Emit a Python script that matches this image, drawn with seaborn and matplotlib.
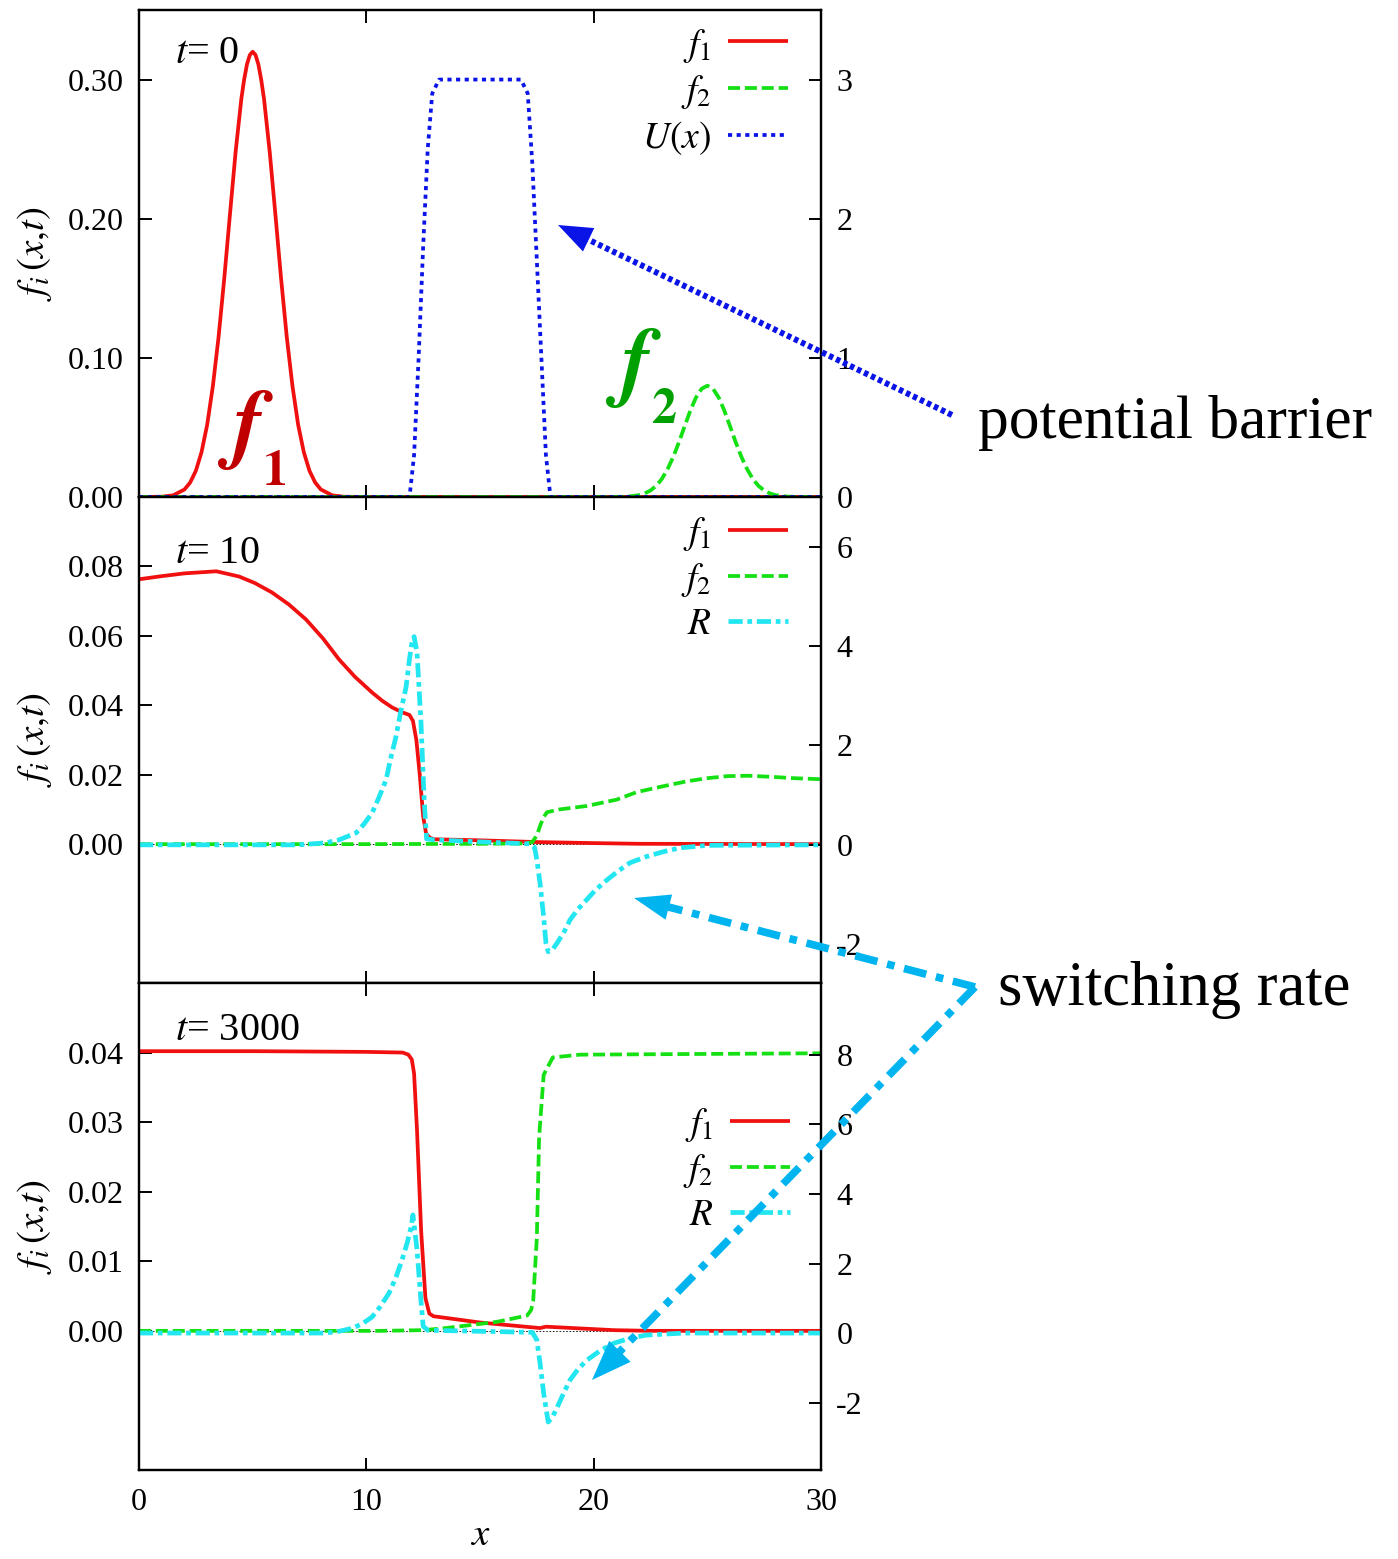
import numpy as np
import matplotlib
matplotlib.use("Agg")
import matplotlib.pyplot as plt
from matplotlib.lines import Line2D
from matplotlib.patches import Polygon
import seaborn as sns

sns.set_style("ticks")
plt.rcParams['font.family'] = ['Liberation Serif', 'DejaVu Serif']
plt.rcParams['mathtext.fontset'] = 'stix'
for k in ['text.color', 'axes.labelcolor', 'xtick.color', 'ytick.color', 'axes.edgecolor']:
    plt.rcParams[k] = 'black'

# ---------------- data ----------------
# panel 1, t = 0
x_f1_t0 = [0, 1, 1.5, 2, 2.25, 2.5, 2.75, 3, 3.25, 3.5, 3.75, 4, 4.25, 4.5, 4.625, 4.75, 4.875,
           5, 5.125, 5.25, 5.375, 5.5, 5.75, 6, 6.25, 6.5, 6.75, 7, 7.25, 7.5, 7.75, 8, 8.5, 9,
           10, 30]
f1_t0 = [0, 0.0002, 0.0012, 0.0054, 0.0104, 0.0188, 0.0322, 0.052, 0.0798, 0.115, 0.157,
         0.203, 0.248, 0.286, 0.300, 0.311, 0.3177, 0.32, 0.3177, 0.311, 0.300, 0.286, 0.248,
         0.203, 0.157, 0.115, 0.0798, 0.052, 0.0322, 0.0188, 0.0104, 0.0054, 0.0012, 0.0002,
         0, 0]
x_f2_t0 = [0, 20, 21, 21.5, 22, 22.25, 22.5, 22.75, 23, 23.25, 23.5, 23.75, 24, 24.25, 24.5,
           24.75, 25, 25.25, 25.5, 25.75, 26, 26.25, 26.5, 26.75, 27, 27.25, 27.5, 27.75, 28,
           28.5, 29, 30]
f2_t0 = [0, 0, 0.00005, 0.0003, 0.00135, 0.0026, 0.0047, 0.008, 0.013, 0.020, 0.0288, 0.0393,
         0.0508, 0.062, 0.0715, 0.0778, 0.08, 0.0778, 0.0715, 0.062, 0.0508, 0.0393, 0.0288,
         0.020, 0.013, 0.008, 0.0047, 0.0026, 0.00135, 0.0003, 0.00005, 0]
x_U = [0, 11.9, 12.1, 12.3, 12.5, 12.7, 12.9, 13.2, 16.8, 17.1, 17.3, 17.5, 17.7, 17.9, 18.1, 30]
U_x = [0, 0, 0.3, 1.0, 1.8, 2.5, 2.9, 3.0, 3.0, 2.9, 2.4, 1.7, 1.0, 0.3, 0, 0]

# panel 2, t = 10
x_f1_t10 = [0, 1, 2, 3.4, 4.4, 5.1, 5.85, 6.6, 7.35, 8.1, 8.8, 9.5, 10.25, 10.7, 11.13, 11.57,
            11.9, 12.05, 12.2, 12.35, 12.5, 12.63, 12.8, 13.0, 15, 17.5, 20, 22, 30]
f1_t10 = [0.0763, 0.0772, 0.0780, 0.0786, 0.0771, 0.0752, 0.0725, 0.0690, 0.0647, 0.0592,
          0.0532, 0.0482, 0.0437, 0.0413, 0.0394, 0.038, 0.0372, 0.0355, 0.030, 0.020, 0.008,
          0.0030, 0.0018, 0.0014, 0.0011, 0.0006, 0.0003, 0.0001, 0]
x_f2_t10 = [0, 10, 15, 17.0, 17.3, 17.5, 17.64, 17.8, 17.95, 18.5, 19.7, 21.0, 21.9, 23.0,
            24.1, 25.0, 25.9, 26.8, 27.8, 28.8, 30]
f2_t10 = [0, 0, 0.0001, 0.0002, 0.0006, 0.0025, 0.0052, 0.0078, 0.0092, 0.0100, 0.0110,
          0.0128, 0.0150, 0.0166, 0.0181, 0.0190, 0.0196, 0.0197, 0.0194, 0.0190, 0.0187]
x_R_t10 = [0, 7, 8.2, 8.8, 9.55, 9.9, 10.25, 10.55, 10.87, 11.05, 11.3, 11.5, 11.75, 11.9,
           12.0, 12.1, 12.23, 12.4, 12.55, 12.65, 13.0, 15, 17.2, 17.4, 17.5, 17.64, 17.8, 17.9,
           18.0, 18.2, 18.4, 18.7, 18.96, 19.3, 19.7, 20.1, 20.6, 21.1, 21.6, 22.3, 23.05,
           23.8, 25, 30]
R_t10 = [0, 0, 0.04, 0.1, 0.24, 0.42, 0.64, 0.95, 1.31, 1.7, 2.17, 2.65, 3.18, 3.75, 4.05,
         4.19, 3.87, 2.5, 0.85, 0.12, 0.1, 0.06, 0.02, -0.05, -0.3, -0.77, -1.45, -1.97, -2.15,
         -2.1, -1.97, -1.75, -1.51, -1.3, -1.1, -0.9, -0.7, -0.52, -0.36, -0.24, -0.14, -0.06,
         -0.01, 0]

# panel 3, t = 3000
x_f1_t3000 = [0, 5, 10, 11.6, 11.85, 12.0, 12.1, 12.23, 12.41, 12.6, 12.77, 12.95, 15, 17.64,
              17.9, 20.9, 22.5, 30]
f1_t3000 = [0.0402, 0.0402, 0.0401, 0.0400, 0.0397, 0.0390, 0.0370, 0.0288, 0.0144, 0.0047,
            0.0025, 0.0021, 0.0012, 0.0004, 0.0006, 0.0001, 0, 0]
x_f2_t3000 = [0, 10.6, 12.5, 13.5, 15.75, 17.07, 17.25, 17.34, 17.5, 17.6, 17.8, 18.2, 19.4, 30]
f2_t3000 = [0, 0, 0.0001, 0.0004, 0.0013, 0.0022, 0.0030, 0.0043, 0.0134, 0.0278, 0.0368,
            0.0393, 0.0397, 0.0399]
x_R_t3000 = [0, 8.2, 8.8, 9.4, 9.85, 10.25, 10.6, 11.0, 11.3, 11.57, 11.8, 11.97, 12.05, 12.23,
             12.4, 12.5, 12.7, 15, 17.3, 17.5, 17.64, 17.8, 18.0, 18.2, 18.4, 18.7, 18.96, 19.3,
             19.7, 20.3, 20.9, 21.6, 22.3, 24, 30]
R_t3000 = [0, 0, 0.05, 0.14, 0.28, 0.46, 0.75, 1.15, 1.6, 2.1, 2.6, 3.05, 3.4, 2.39, 0.95, 0.2,
           0.08, 0.05, 0.02, -0.2, -0.86, -1.73, -2.56, -2.4, -2.13, -1.7, -1.35, -1.05, -0.78,
           -0.5, -0.29, -0.15, -0.06, 0, 0]

time_labels = ["0", "10", "3000"]
x_ticks = [0, 10, 20, 30]
left_ticks = [[0.0, 0.10, 0.20, 0.30], [0.0, 0.02, 0.04, 0.06, 0.08], [0.0, 0.01, 0.02, 0.03, 0.04]]
left_lims = [(0, 0.35), (-0.04, 0.10), (-0.02, 0.05)]
right_ticks = [[0, 1, 2, 3], [-2, 0, 2, 4, 6], [-2, 0, 2, 4, 6, 8]]
right_lims = [(0, 3.5), (-2.78, 7.0), (-3.94, 10.07)]

# ---------------- styles ----------------
RED = '#f01010'
GREEN = '#14e014'
BLUE = '#0a14e6'
CYAN = '#22e6f0'
ARROW_CYAN = '#00b4f0'

W, H = 1398, 1559
fig = plt.figure(figsize=(W / 100, H / 100), dpi=100)


def P(px, py):
    return (px / W, 1 - py / H)


tops = [10, 497, 983]
bots = [497, 983, 1470]
L, R_ = 139, 821
FS_TICK = 23
FS_LEG = 27

panels = []
for i in range(3):
    ax = fig.add_axes([L / W, 1 - bots[i] / H, (R_ - L) / W, (bots[i] - tops[i]) / H])
    ax2 = ax.twinx()
    panels.append((ax, ax2))


def draw(ax, x, y, color, lw, dashes=None):
    sns.lineplot(x=x, y=y, ax=ax, color=color, lw=lw, estimator=None, sort=True)
    ln = ax.get_lines()[-1]
    if dashes is not None:
        ln.set_dashes(dashes)
    ln.set_solid_capstyle('butt')
    ln.set_dash_capstyle('butt')
    ln.set_solid_joinstyle('round')
    return ln


LW = 2.7
GD = (3.2, 1.3)
handles = []
# panel 1
ax, ax2 = panels[0]
h1 = draw(ax, x_f1_t0, f1_t0, RED, LW)
h2 = draw(ax, x_f2_t0, f2_t0, GREEN, LW, GD)
h3 = draw(ax2, x_U, U_x, BLUE, LW, (1.1, 1.2))
handles.append(([h1, h2, h3], [r'$f_1$', r'$f_2$', r'$U(x)$']))
# panel 2
ax, ax2 = panels[1]
h1 = draw(ax, x_f1_t10, f1_t10, RED, LW)
h2 = draw(ax, x_f2_t10, f2_t10, GREEN, LW, GD)
h3 = draw(ax2, x_R_t10, R_t10, CYAN, 3.4, (3, 1, 1, 1))
handles.append(([h1, h2, h3], [r'$f_1$', r'$f_2$', r'$R$']))
# panel 3
ax, ax2 = panels[2]
h1 = draw(ax, x_f1_t3000, f1_t3000, RED, LW)
h2 = draw(ax, x_f2_t3000, f2_t3000, GREEN, LW, GD)
h3 = draw(ax2, x_R_t3000, R_t3000, CYAN, 3.4, (3, 1, 1, 1))
handles.append(([h1, h2, h3], [r'$f_1$', r'$f_2$', r'$R$']))

leg_anchor = [(0.952, 0.966), (0.952, 0.963), (0.955, 0.748)]
label_y = [0.891, 0.864, 0.883]

for i, (ax, ax2) in enumerate(panels):
    ax.set_xlim(0, 30)
    ax.set_ylim(*left_lims[i])
    ax2.set_ylim(*right_lims[i])
    ax.set_xticks(x_ticks)
    ax.set_yticks(left_ticks[i])
    ax.set_yticklabels([f"{v:.2f}" for v in left_ticks[i]])
    ax2.set_yticks(right_ticks[i])
    ax2.set_yticklabels([str(v) for v in right_ticks[i]])
    ax.axhline(0, color='k', lw=0.6, ls=(0, (2, 2)), zorder=0.5)
    for a in (ax, ax2):
        for s in a.spines.values():
            s.set_linewidth(1.6)
            s.set_color('black')
        a.set_xlabel('')
        a.set_ylabel('')
    ax.tick_params(axis='both', direction='in', length=9, width=1.4, labelsize=FS_TICK,
                   top=True, bottom=True, left=True, right=False, pad=11)
    ax2.tick_params(axis='y', direction='in', length=9, width=1.4, labelsize=FS_TICK,
                    right=True, left=False, pad=11)
    if i < 2:
        ax.tick_params(axis='x', labelbottom=False)
    else:
        ax.set_xticklabels([str(v) for v in x_ticks])
        ax.tick_params(axis='x', pad=13)
        ax.set_xlabel(r'$x$', fontsize=FS_LEG + 1, labelpad=0)
    ax.set_ylabel(r'$f_i\,(x{,}t)$', fontsize=FS_LEG + 1)
    ax.yaxis.set_label_coords(-0.125, 0.5)
    ax.text(0.053, label_y[i], r'$t$= ' + time_labels[i], transform=ax.transAxes,
            fontsize=29, va='baseline', ha='left')
    hs, ls = handles[i]
    ax2.legend(hs, ls, loc='upper right', bbox_to_anchor=leg_anchor[i], frameon=False,
               markerfirst=False, fontsize=FS_LEG, handlelength=1.6, handletextpad=0.45,
               borderpad=0, borderaxespad=0, labelspacing=0.22)

# ---------------- annotations ----------------
def arrow(tail, head, color, lw, dashes, head_len, head_w):
    t = np.array(P(*tail)) * [W, H]
    h = np.array(P(*head)) * [W, H]
    d = h - t
    u = d / np.hypot(*d)
    n = np.array([-u[1], u[0]])
    base = h - u * head_len * 0.9
    ln = Line2D([t[0] / W, base[0] / W], [t[1] / H, base[1] / H], transform=fig.transFigure,
                color=color, lw=lw, solid_capstyle='butt', dash_capstyle='butt')
    ln.set_dashes(dashes)
    fig.add_artist(ln)
    b2 = h - u * head_len
    pts = [h, b2 + n * head_w / 2, b2 - n * head_w / 2]
    fig.add_artist(Polygon([(p[0] / W, p[1] / H) for p in pts], closed=True,
                           transform=fig.transFigure, color=color, lw=0))


arrow((952, 415), (558, 225), BLUE, 4.3, (0.75, 0.55), 34, 26)
arrow((975, 987), (634, 898), ARROW_CYAN, 5.5, (3.0, 1.3, 1.0, 1.3), 36, 26)
arrow((975, 987), (592, 1380), ARROW_CYAN, 5.5, (3.0, 1.3, 1.0, 1.3), 40, 30)

fig.text(*P(978, 438), 'potential barrier', fontsize=44.3, va='baseline', ha='left')
fig.text(*P(998, 1005), 'switching rate', fontsize=45, va='baseline', ha='left')

# big f1 / f2 labels
fig.text(*P(232, 452), 'f', fontsize=64, fontstyle='italic', fontweight='bold', color='#c00000',
         family='STIXGeneral', va='baseline', ha='left')
fig.text(*P(263, 485), '1', fontsize=36, fontweight='bold', color='#c00000',
         family='STIXGeneral', va='baseline', ha='left')
fig.text(*P(620, 390), 'f', fontsize=64, fontstyle='italic', fontweight='bold', color='#00a000',
         family='STIXGeneral', va='baseline', ha='left')
fig.text(*P(651, 423), '2', fontsize=36, fontweight='bold', color='#00a000',
         family='STIXGeneral', va='baseline', ha='left')

fig.savefig('out.png', dpi=100)
